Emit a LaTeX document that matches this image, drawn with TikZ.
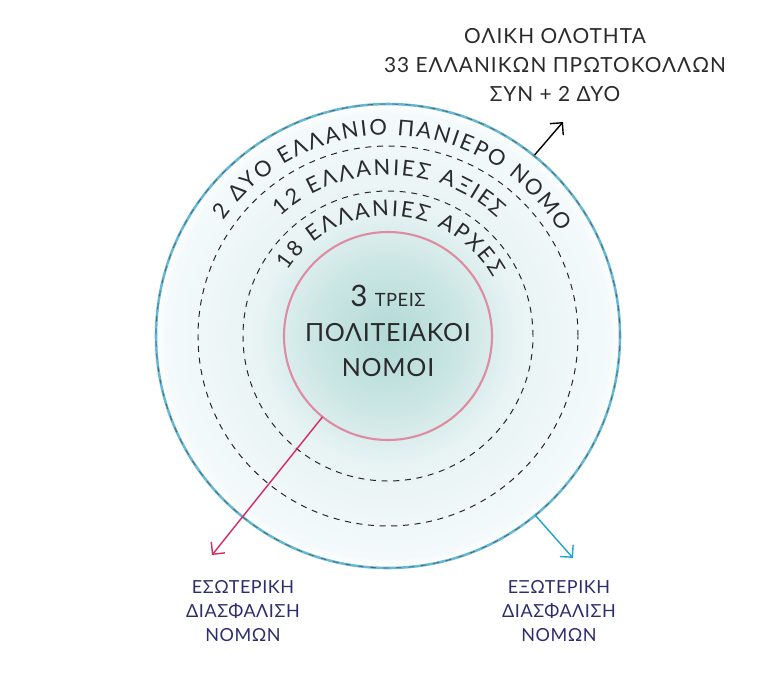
\documentclass[tikz,border=0pt]{standalone}
\usepackage{fontspec}
\setmainfont{Lato}
\usepackage{tikz}
\usetikzlibrary{arrows.meta, calc, decorations.text}
\definecolor{rteal}{HTML}{B2DAD6}
\definecolor{rtealmd}{HTML}{CBE6E4}
\definecolor{rteallt}{HTML}{E8F3F4}
\definecolor{rtealxl}{HTML}{F4FAFB}
\definecolor{rsky}{HTML}{64B9D7}
\definecolor{rpink}{HTML}{E08CA0}
\definecolor{cbCrimson}{HTML}{D7285F}
\definecolor{cbCyan}{HTML}{1EA5CD}
\definecolor{rnavy}{HTML}{2D2D6E}
\definecolor{rink}{HTML}{2A2A2A}
\pgfdeclareradialshading{ringglow}{\pgfpoint{0bp}{0bp}}{%
  color(0bp)=(rteal); color(8bp)=(rtealmd); color(14bp)=(rteallt);
  color(24bp)=(rtealxl); color(25bp)=(white); color(50bp)=(white)}
\newcommand{\arcfont}{\fontsize{15.5}{18}\selectfont}
\tikzset{
  ringdash/.style = {draw=black!85, line width=0.7pt, dash pattern=on 4.3pt off 4pt},
  exarrow/.style  = {-{Straight Barb[length=2.2mm, width=4.4mm]}, line width=1pt},
  toplab/.style   = {align=center, text=rink, inner sep=0pt,
                     font=\fontsize{14.8}{20.6}\selectfont\addfontfeature{LetterSpace=5}},
  sidelab/.style  = {align=center, text=rnavy, inner sep=0pt,
                     font=\fontsize{12.8}{17}\selectfont\addfontfeature{LetterSpace=3}},
  midtxt/.style   = {align=center, text=rink, inner sep=0pt,
                     font=\fontsize{17.8}{25}\selectfont\addfontfeature{LetterSpace=3}},
  arctxt/.style   = {decorate, decoration={text along path, text align={fit to path},
                     text color=rink, text={|\arcfont|#1}}},
}

\begin{document}
\begin{tikzpicture}[x=0.025cm, y=0.025cm]
  \useasboundingbox (-388,-350) rectangle (385,336);
  \coordinate (O) at (0,0);
  \shade[shading=ringglow] (O) circle (232);
  \draw[ringdash] (O) circle (145);
  \draw[ringdash] (O) circle (190);
  \draw[draw=rpink, line width=1.5pt] (O) circle (104);
  \draw[draw=rsky, line width=1.8pt] (O) circle (232);
  \draw[draw=black!65, line width=0.5pt, dash pattern=on 4pt off 5pt] (O) circle (232);
  \path[arctxt={2 ΔΥΟ ΕΛΛΑΝΙΟ ΠΑΝΙΕΡΟ ΝΟΜΟ}] (145:201) arc[start angle=145, end angle=31, radius=201];
  \path[arctxt={12 ΕΛΛΑΝΙΕΣ ΑΞΙΕΣ}] (132:161) arc[start angle=132, end angle=47, radius=161];
  \path[arctxt={18 ΕΛΛΑΝΙΕΣ ΑΡΧΕΣ}] (147:120) arc[start angle=147, end angle=29, radius=120];
  \node[midtxt] (core) at (0,5) {{\fontsize{21}{21}\selectfont 3} {\fontsize{13}{13}\selectfont ΤΡΕΙΣ}\\ΠΟΛΙΤΕΙΑΚΟΙ\\ΝΟΜΟΙ};
  \node[toplab] (whole) at (167,271) {ΟΛΙΚΗ ΟΛΟΤΗΤΑ\\33 ΕΛΛΑΝΙΚΩΝ ΠΡΩΤΟΚΟΛΛΩΝ\\ΣΥΝ + 2 ΔΥΟ};
  \node[sidelab] (inside) at (-145,-275) {ΕΣΩΤΕΡΙΚΗ\\ΔΙΑΣΦΑΛΙΣΗ\\ΝΟΜΩΝ};
  \node[sidelab] (outside) at (171,-275) {ΕΞΩΤΕΡΙΚΗ\\ΔΙΑΣΦΑΛΙΣΗ\\ΝΟΜΩΝ};
  \coordinate (tA) at (51:233);
  \coordinate (tB) at (175,214);
  \coordinate (rA) at (231:104);
  \coordinate (rB) at (-176,-219);
  \coordinate (cA) at (-50.6:232);
  \coordinate (cB) at (185,-222);
  \draw[exarrow, draw=black] (tA) -- (tB);
  \draw[exarrow, draw=cbCrimson] (rA) -- (rB);
  \draw[exarrow, draw=cbCyan] (cA) -- (cB);
\end{tikzpicture}
\end{document}
